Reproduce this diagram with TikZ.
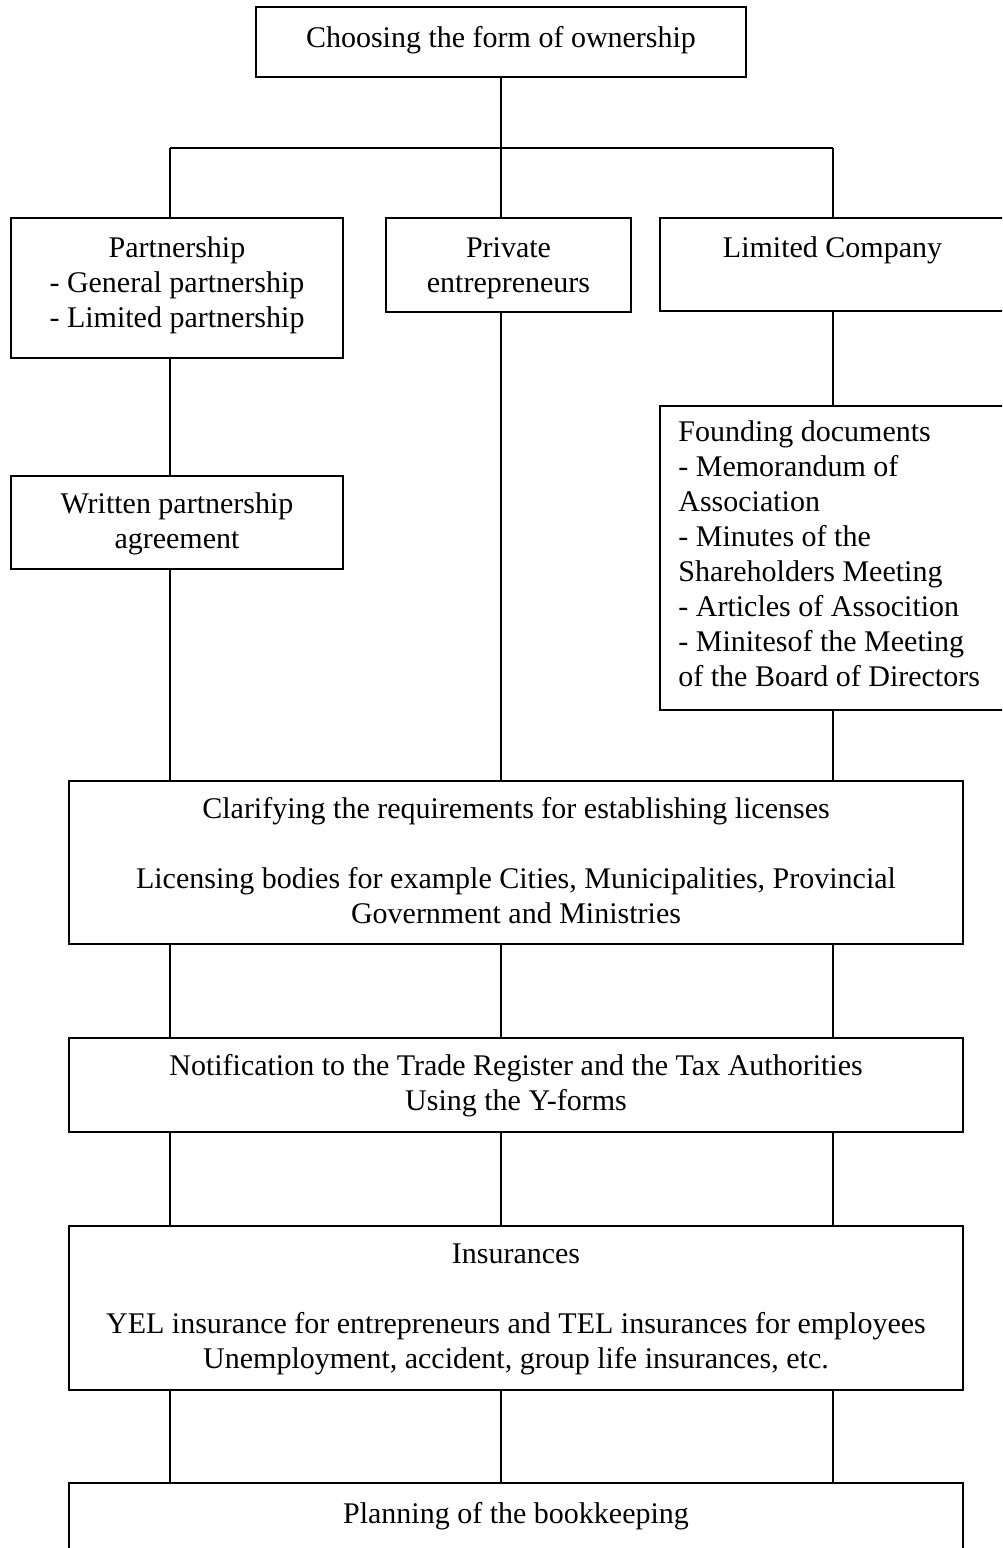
\documentclass[tikz,border=0pt]{standalone}
\usepackage{fontspec}
\setmainfont{Liberation Serif}
\newcommand\boxstrut{\rule{0pt}{22pt}}
\tikzset{
  box/.style={draw, line width=1.6pt, rectangle, inner sep=0pt},
  link/.style={line width=1.3pt},
  txt/.style={font=\fontsize{30}{35}\selectfont, align=center, inner sep=0pt, anchor=north},
}
\begin{document}
\begin{tikzpicture}[x=1pt, y=-1pt]
  % page frame
  \path[use as bounding box, fill=white] (0,0) rectangle (1002,1548);
  \clip (0,0) rectangle (1002,1548);

  % boxes
  \node[box, minimum width=490pt, minimum height=70pt]  (top)     at (501,42)     {};
  \node[box, minimum width=332pt, minimum height=140pt] (part)    at (177,288)    {};
  \node[box, minimum width=245pt, minimum height=94pt]  (priv)    at (508.5,265)  {};
  \node[box, minimum width=345pt, minimum height=93pt]  (ltd)     at (832.5,264.5){};
  \node[box, minimum width=332pt, minimum height=93pt]  (written) at (177,522.5)  {};
  \node[box, minimum width=345pt, minimum height=304pt] (found)   at (832.5,558)  {};
  \node[box, minimum width=894pt, minimum height=163pt] (clar)    at (516,862.5)  {};
  \node[box, minimum width=894pt, minimum height=94pt]  (notif)   at (516,1085)   {};
  \node[box, minimum width=894pt, minimum height=164pt] (ins)     at (516,1308)   {};
  \node[box, minimum width=894pt, minimum height=117pt] (plan)    at (516,1541.5) {};

  % box texts
  \node[txt] (topT) at ([yshift=-19pt]top.north) {\boxstrut Choosing the form of ownership};
  \node[txt] (partT) at ([yshift=-18pt]part.north) {\boxstrut Partnership\\- General partnership\\- Limited partnership};
  \node[txt] (privT) at ([yshift=-18pt]priv.north) {\boxstrut Private\\entrepreneurs};
  \node[txt] (ltdT) at ([yshift=-18pt]ltd.north) {\boxstrut Limited Company};
  \node[txt] (writtenT) at ([yshift=-16pt]written.north) {\boxstrut Written partnership\\agreement};
  \node[txt, anchor=north west, align=left] (foundT) at ([xshift=19pt,yshift=-14pt]found.north west)
    {\boxstrut Founding documents\\- Memorandum of\\Association\\- Minutes of the\\Shareholders Meeting\\- Articles of Assocition\\- Minitesof the Meeting\\of the Board of Directors};
  \node[txt] (clarT) at ([yshift=-16pt]clar.north)
    {\boxstrut Clarifying the requirements for establishing licenses\\[35pt]Licensing bodies for example Cities, Municipalities, Provincial\\Government and Ministries};
  \node[txt] (notifT) at ([yshift=-16pt]notif.north)
    {\boxstrut Notification to the Trade Register and the Tax Authorities\\Using the Y-forms};
  \node[txt] (insT) at ([yshift=-16pt]ins.north)
    {\boxstrut Insurances\\[35pt]YEL insurance for entrepreneurs and TEL insurances for employees\\Unemployment, accident, group life insurances, etc.};
  \node[txt] (planT) at ([yshift=-19pt]plan.north) {\boxstrut Planning of the bookkeeping};

  % branch points
  \coordinate (bus)  at (501,148);
  \coordinate (busL) at (170,148);
  \coordinate (busR) at (833,148);

  % connectors: top level
  \draw[link] (top.south) -- (bus);
  \draw[link] (busL) -- (busR);
  \draw[link] (busL) -- (busL |- part.north);
  \draw[link] (bus)  -- (bus |- priv.north);
  \draw[link] (busR) -- (busR |- ltd.north);

  % connectors: forms of ownership down to licensing
  \draw[link] (busL |- part.south)    -- (busL |- written.north);
  \draw[link] (busL |- written.south) -- (busL |- clar.north);
  \draw[link] (bus |- priv.south)     -- (bus |- clar.north);
  \draw[link] (busR |- ltd.south)     -- (busR |- found.north);
  \draw[link] (busR |- found.south)   -- (busR |- clar.north);

  % connectors between the common steps
  \foreach \c in {busL, bus, busR} {
    \draw[link] (\c |- clar.south)  -- (\c |- notif.north);
    \draw[link] (\c |- notif.south) -- (\c |- ins.north);
    \draw[link] (\c |- ins.south)   -- (\c |- plan.north);
  }
\end{tikzpicture}
\end{document}
